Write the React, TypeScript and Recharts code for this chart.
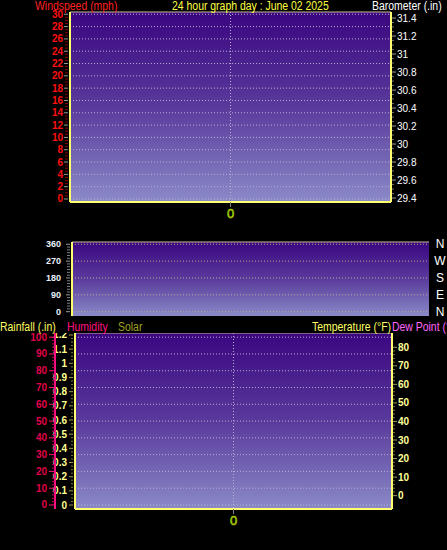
import React from "react";
import {
  CartesianGrid,
  ComposedChart,
  Line,
  ReferenceLine,
  XAxis,
  YAxis,
} from "recharts";

// one day, nothing logged yet: every reading is empty
const hours = [0];
const windSpeed: (number | null)[] = [null];
const windGust: (number | null)[] = [null];
const barometer: (number | null)[] = [null];
const windDir: (number | null)[] = [null];
const rainfall: (number | null)[] = [null];
const humidity: (number | null)[] = [null];
const solar: (number | null)[] = [null];
const temperature: (number | null)[] = [null];
const dewPoint: (number | null)[] = [null];

const hourTicks = [0];
const windTicks = [0, 2, 4, 6, 8, 10, 12, 14, 16, 18, 20, 22, 24, 26, 28, 30];
const baroTicks = [29.4, 29.6, 29.8, 30, 30.2, 30.4, 30.6, 30.8, 31, 31.2, 31.4];
const dirTicks = [0, 90, 180, 270, 360];
const dirLetters = ["N", "E", "S", "W", "N"];
const rainTicks = [0, 0.1, 0.2, 0.3, 0.4, 0.5, 0.6, 0.7, 0.8, 0.9, 1, 1.1, 1.2];
const humTicks = [0, 10, 20, 30, 40, 50, 60, 70, 80, 90, 100];
const tempTicks = [0, 10, 20, 30, 40, 50, 60, 70, 80];

const FONT = "'Liberation Sans', Arial, sans-serif";

const windDomain = [-0.49, 30.37];
const baroDomain = [29.356, 31.467];
const dirDomain = [-23, 372];
const rainDomain = [-0.028, 1.214];
const humDomain = [-2.4, 102.5];
const tempDomain = [-7.2, 87.7];
const hourDomain = [-1, 1];

// small unlabelled ticks between the labelled ones
const withMinor = (major: number[], parts: number) => {
  const out: number[] = [];
  for (let i = 0; i < major.length - 1; i++) {
    const a = major[i];
    const b = major[i + 1];
    for (let k = 0; k < parts; k++) {
      out.push(Math.round((a + ((b - a) * k) / parts) * 1000) / 1000);
    }
  }
  out.push(major[major.length - 1]);
  return out;
};

const windAll = withMinor(windTicks, 4);
const baroAll = withMinor(baroTicks, 4);
const dirAll = withMinor(dirTicks, 6);
const rainAll = withMinor(rainTicks, 4);
const humAll = withMinor(humTicks, 5);
const tempAll = withMinor(tempTicks, 5);

interface TickStyle {
  side: "left" | "right";
  labels: number[];
  text: string;
  majorColor: string;
  minorColor: string;
  offset: number;
  majorLen: number;
  minorLen: number;
  gap: number;
  size?: number;
  bold?: boolean;
}

const makeTick = (s: TickStyle) => (props: any) => {
  const { x, y, payload } = props;
  const v = payload.value as number;
  const major = s.labels.some((l) => Math.abs(l - v) < 1e-6);
  const dir = s.side === "left" ? -1 : 1;
  const len = major ? s.majorLen : s.minorLen;
  return (
    <g>
      {len > 0 && (
        <line
          x1={x + dir * s.offset}
          x2={x + dir * (s.offset + len)}
          y1={y}
          y2={y}
          stroke={major ? s.majorColor : s.minorColor}
          strokeWidth={1}
        />
      )}
      {major && (
        <text
          x={x + dir * s.gap}
          y={y}
          dy="0.35em"
          textAnchor={s.side === "left" ? "end" : "start"}
          fill={s.text}
          fontSize={s.size ?? 10}
          fontWeight={s.bold ? "bold" : "normal"}
          fontFamily={FONT}
        >
          {String(v)}
        </text>
      )}
    </g>
  );
};

const windTick = makeTick({
  side: "left",
  labels: windTicks,
  text: "#ff1010",
  majorColor: "#9a9a9a",
  minorColor: "#8a0000",
  offset: 2,
  majorLen: 4,
  minorLen: 3,
  gap: 7,
  bold: true,
});
const baroTick = makeTick({
  side: "right",
  labels: baroTicks,
  text: "#ffffff",
  majorColor: "#9a9a9a",
  minorColor: "#707070",
  offset: 1,
  majorLen: 4,
  minorLen: 2,
  gap: 6,
});
const dirTick = makeTick({
  side: "left",
  labels: dirTicks,
  text: "#e8f0ff",
  majorColor: "#9a9a9a",
  minorColor: "#808080",
  offset: 2,
  majorLen: 4,
  minorLen: 3,
  gap: 11,
  bold: true,
  size: 9,
});
const rainTick = makeTick({
  side: "left",
  labels: rainTicks,
  text: "#ffff90",
  majorColor: "#9a9a50",
  minorColor: "#7a7a30",
  offset: 2,
  majorLen: 4,
  minorLen: 2,
  gap: 8,
  bold: true,
});
const humTick = makeTick({
  side: "left",
  labels: humTicks,
  text: "#e0004c",
  majorColor: "#ff1080",
  minorColor: "#c00060",
  offset: 0,
  majorLen: 6,
  minorLen: 3,
  gap: 8,
  bold: true,
});
const tempTick = makeTick({
  side: "right",
  labels: tempTicks,
  text: "#ffff99",
  majorColor: "#9a9a50",
  minorColor: "#7a7a30",
  offset: 1,
  majorLen: 4,
  minorLen: 2,
  gap: 6,
  bold: true,
});
const compassTick = (props: any) => (
  <text
    x={props.x + 11}
    y={props.y}
    dy="0.35em"
    textAnchor="middle"
    fill="#ffffff"
    fontSize={12}
    fontFamily={FONT}
  >
    {dirLetters[dirTicks.indexOf(props.payload.value)]}
  </text>
);

const hourTick = {
  fill: "#50c800",
  stroke: "#d8d800",
  strokeWidth: 0.5,
  fontSize: 13,
  fontFamily: FONT,
};
const yellowLine = { stroke: "#ffff70", strokeWidth: 2 };
const pinkLine = { stroke: "#ff1080", strokeWidth: 2 };
const grayTickLine = { stroke: "#808080" };
const gridDots = { stroke: "#b8aed0", strokeDasharray: "1 2", strokeWidth: 1 };

const Gradient = ({ id }: { id: string }) => (
  <defs>
    <linearGradient id={id} x1="0" y1="0" x2="0" y2="1">
      <stop offset="0%" stopColor="#3a0680" />
      <stop offset="50%" stopColor="#5a3a9c" />
      <stop offset="100%" stopColor="#8a8ac8" />
    </linearGradient>
  </defs>
);

const windData = hours.map((h, i) => ({
  hour: h,
  speed: windSpeed[i],
  gust: windGust[i],
  baro: barometer[i],
}));
const dirData = hours.map((h, i) => ({ hour: h, dir: windDir[i] }));
const climateData = hours.map((h, i) => ({
  hour: h,
  rain: rainfall[i],
  hum: humidity[i],
  solar: solar[i],
  temp: temperature[i],
  dew: dewPoint[i],
}));

const header = (left: number, top: number, color: string): React.CSSProperties => ({
  position: "absolute",
  left,
  top,
  color,
  fontFamily: FONT,
  fontSize: 12,
  lineHeight: "12px",
  whiteSpace: "nowrap",
  transform: "scaleX(0.87)",
  transformOrigin: "0 0",
});

const climateMargin = { top: 3, right: 0, bottom: 11, left: 0 };

const App: React.FC = () => {
  return (
    <div
      style={{
        position: "absolute",
        left: 0,
        top: 0,
        width: 447,
        height: 550,
        background: "#000",
        overflow: "hidden",
      }}
    >
      {/* wind speed + barometer */}
      <div style={{ position: "absolute", left: 0, top: 0 }}>
        <ComposedChart
          width={447}
          height={230}
          data={windData}
          margin={{ top: 12, right: 0, bottom: 0, left: 0 }}
        >
          <Gradient id="bgWind" />
          <CartesianGrid yAxisId="wind" horizontal={false} fill="url(#bgWind)" {...gridDots} />
          <XAxis
            dataKey="hour"
            type="number"
            domain={hourDomain}
            ticks={hourTicks}
            allowDataOverflow
            height={28}
            tickSize={5}
            tickLine={grayTickLine}
            axisLine={yellowLine}
            tick={hourTick}
          />
          <YAxis
            yAxisId="wind"
            orientation="left"
            width={70}
            domain={windDomain}
            allowDataOverflow
            ticks={windAll}
            interval={0}
            tickSize={0}
            tickMargin={0}
            tickLine={false}
            axisLine={yellowLine}
            tick={windTick}
          />
          <YAxis
            yAxisId="baro"
            orientation="right"
            width={56}
            domain={baroDomain}
            allowDataOverflow
            ticks={baroAll}
            interval={0}
            tickSize={0}
            tickMargin={0}
            tickLine={false}
            axisLine={yellowLine}
            tick={baroTick}
          />
          {windTicks.map((t) => (
            <ReferenceLine key={t} yAxisId="wind" y={t} {...gridDots} />
          ))}
          <ReferenceLine yAxisId="wind" y={windDomain[1]} stroke="#c8bc98" />
          <Line yAxisId="wind" dataKey="speed" stroke="#ff2020" dot={false} isAnimationActive={false} />
          <Line yAxisId="wind" dataKey="gust" stroke="#ff8080" dot={false} isAnimationActive={false} />
          <Line yAxisId="baro" dataKey="baro" stroke="#ffffff" dot={false} isAnimationActive={false} />
        </ComposedChart>
      </div>

      {/* wind direction */}
      <div style={{ position: "absolute", left: 0, top: 230 }}>
        <ComposedChart
          width={447}
          height={90}
          data={dirData}
          margin={{ top: 12, right: 0, bottom: 4, left: 0 }}
        >
          <Gradient id="bgDir" />
          <CartesianGrid yAxisId="dir" horizontal={false} vertical={false} fill="url(#bgDir)" />
          <XAxis dataKey="hour" type="number" domain={hourDomain} hide />
          <YAxis
            yAxisId="dir"
            orientation="left"
            width={72}
            domain={dirDomain}
            allowDataOverflow
            ticks={dirAll}
            interval={0}
            tickSize={0}
            tickMargin={0}
            tickLine={false}
            axisLine={yellowLine}
            tick={dirTick}
          />
          <YAxis
            yAxisId="compass"
            orientation="right"
            width={18}
            domain={dirDomain}
            allowDataOverflow
            ticks={dirTicks}
            interval={0}
            tickSize={0}
            tickMargin={0}
            tickLine={false}
            axisLine={false}
            tick={compassTick}
          />
          {dirTicks.map((t) => (
            <ReferenceLine key={t} yAxisId="dir" y={t} stroke="#b8ac90" strokeDasharray="1 2" />
          ))}
          <ReferenceLine yAxisId="dir" y={dirDomain[1]} stroke="#c8bc98" />
          <Line
            yAxisId="dir"
            dataKey="dir"
            stroke="#ffffff"
            strokeWidth={0}
            dot={{ r: 1.5, fill: "#ffffff" }}
            isAnimationActive={false}
          />
        </ComposedChart>
      </div>

      {/* rain, humidity, solar, temperature, dew point */}
      <div style={{ position: "absolute", left: 0, top: 330 }}>
        <ComposedChart width={447} height={220} data={climateData} margin={climateMargin}>
          <Gradient id="bgClimate" />
          <CartesianGrid yAxisId="hum" horizontal={false} fill="url(#bgClimate)" {...gridDots} />
          <XAxis
            dataKey="hour"
            type="number"
            domain={hourDomain}
            ticks={hourTicks}
            allowDataOverflow
            height={30}
            tickSize={5}
            tickLine={grayTickLine}
            axisLine={yellowLine}
            tick={hourTick}
          />
          <YAxis yAxisId="hum" hide width={0} domain={humDomain} allowDataOverflow />
          <YAxis
            yAxisId="rain"
            orientation="left"
            width={75}
            domain={rainDomain}
            allowDataOverflow
            ticks={rainAll}
            interval={0}
            tickSize={0}
            tickMargin={0}
            tickLine={false}
            axisLine={yellowLine}
            tick={rainTick}
          />
          <YAxis
            yAxisId="temp"
            orientation="right"
            width={55}
            domain={tempDomain}
            allowDataOverflow
            ticks={tempAll}
            interval={0}
            tickSize={0}
            tickMargin={0}
            tickLine={false}
            axisLine={yellowLine}
            tick={tempTick}
          />
          {humTicks.map((t) => (
            <ReferenceLine key={t} yAxisId="hum" y={t} {...gridDots} />
          ))}
          <ReferenceLine yAxisId="hum" y={humDomain[1]} stroke="#c8bc98" />
          <Line yAxisId="rain" dataKey="rain" stroke="#ffff60" dot={false} isAnimationActive={false} />
          <Line yAxisId="hum" dataKey="hum" stroke="#ff1080" dot={false} isAnimationActive={false} />
          <Line yAxisId="hum" dataKey="solar" stroke="#a0a020" dot={false} isAnimationActive={false} />
          <Line yAxisId="temp" dataKey="temp" stroke="#ffff60" dot={false} isAnimationActive={false} />
          <Line yAxisId="temp" dataKey="dew" stroke="#ff66ff" dot={false} isAnimationActive={false} />
        </ComposedChart>
      </div>

      {/* humidity scale, outside the rainfall scale */}
      <div style={{ position: "absolute", left: 0, top: 330, pointerEvents: "none" }}>
        <ComposedChart width={447} height={220} data={climateData} margin={climateMargin}>
          <XAxis
            dataKey="hour"
            type="number"
            domain={hourDomain}
            height={30}
            tick={false}
            tickLine={false}
            axisLine={false}
          />
          <YAxis
            yAxisId="humScale"
            orientation="left"
            width={55}
            domain={humDomain}
            allowDataOverflow
            ticks={humAll}
            interval={0}
            tickSize={0}
            tickMargin={0}
            tickLine={false}
            axisLine={pinkLine}
            tick={humTick}
          />
        </ComposedChart>
      </div>

      {/* titles */}
      <div style={header(35, 0, "#ff2020")}>Windspeed (mph)</div>
      <div style={header(172, 0, "#ffff40")}>24 hour graph day : June 02 2025</div>
      <div style={header(372, 0, "#ffffff")}>Barometer (.in)</div>
      <div
        style={{ position: "absolute", left: 0, top: 319, width: 447, height: 14, background: "#000" }}
      />
      <div style={header(0, 321, "#ffff60")}>Rainfall (.in)</div>
      <div style={header(67, 321, "#ff1080")}>Humidity</div>
      <div style={header(118, 321, "#a0a020")}>Solar</div>
      <div style={header(312, 321, "#ffff60")}>Temperature (°F)</div>
      <div style={header(392, 321, "#ff66ff")}>Dew Point (°F)</div>
    </div>
  );
};

export default App;
